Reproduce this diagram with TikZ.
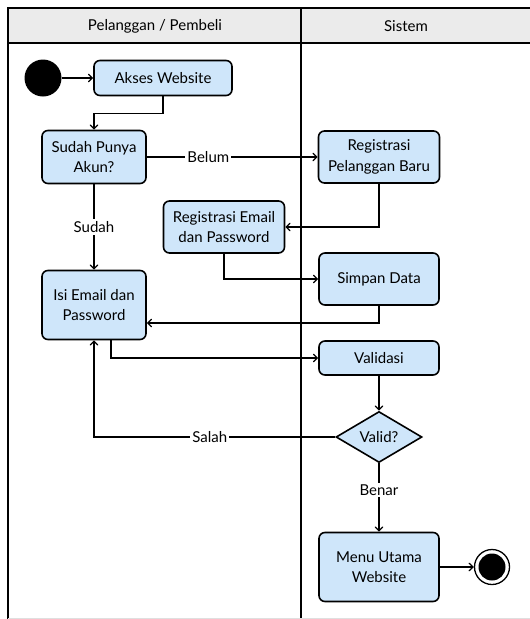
\documentclass[tikz,border=0pt]{standalone}
\usepackage{fontspec}
\setmainfont{Lato}
\usepackage{tikz}
\usetikzlibrary{calc}
\usetikzlibrary{arrows}
\usetikzlibrary{shapes.geometric}
\definecolor{isian}{HTML}{CFE6FA}
\definecolor{kepala}{HTML}{EBEBEB}
\tikzstyle{every node}=[font=\fontsize{15}{20.5}\selectfont]
\tikzstyle{aktivitas}=[draw, line width=1.6pt, rounded corners=6pt, fill=isian, align=center, inner sep=0pt, minimum width=120pt, minimum height=52pt]
\tikzstyle{alur}=[->, >=angle 90, line width=1.3pt]
\tikzstyle{ket}=[fill=white, inner sep=2pt]

\begin{document}
\begin{tikzpicture}[x=1pt, y=-1pt]
            \useasboundingbox (0,0) rectangle (530,619);

            \fill [kepala] (8,8) rectangle (530,43);
            \draw [line width=1.4pt] (530,8) -- (8,8) -- (8,619);
            \draw [line width=1.4pt] (8,43) -- (530,43);
            \draw [line width=1.4pt] (301,8) -- (301,619);
            \draw [gray!25, line width=1pt] (8,618) -- (530,618);
            \node (lajurA) at (155,26) {Pelanggan / Pembeli};
            \node (lajurB) at (406,26) {Sistem};

            \node [circle, fill=black, inner sep=0pt, minimum size=37pt] (mulai) at (43,78) {};
            \node [aktivitas, minimum width=138pt, minimum height=35pt] (akses) at (163,78) {Akses Website};
            \node [aktivitas, minimum width=104pt, minimum height=53pt] (akun) at (94,157) {Sudah Punya\\Akun?};
            \node [aktivitas, minimum width=121pt] (regpel) at (379,157) {Registrasi\\Pelanggan Baru};
            \node [aktivitas, minimum width=121pt] (regemail) at (224,227) {Registrasi Email\\dan Password};
            \node [aktivitas] (simpan) at (379,279) {Simpan Data};
            \node [aktivitas, minimum width=104pt, minimum height=69pt] (isi) at (94,305) {Isi Email dan\\Password};
            \node [aktivitas, minimum height=34pt] (validasi) at (379,358) {Validasi};
            \node [diamond, draw, line width=1.6pt, fill=isian, inner sep=0pt, aspect=1.7, minimum width=86pt, minimum height=51pt] (valid) at (379,437) {Valid?};
            \node [aktivitas, minimum height=69pt] (menu) at (379,567) {Menu Utama\\Website};
            \node [circle, draw, line width=1.3pt, fill=white, inner sep=0pt, minimum size=35pt] (selesai) at (492,567) {};
            \fill (selesai.center) circle (13.5);

            \draw [alur] (mulai) -- (akses.west);
            \draw [alur] (akses.south) -- ++(0,17) -| (akun.north);
            \draw [alur] (akun.east) -- (regpel.west) node [ket, pos=0.36] {Belum};
            \draw [alur] (regpel.south) |- (regemail.east);
            \draw [alur] (akun.south) -- (isi.north) node [ket, midway] {Sudah};
            \draw [alur] (regemail.south) |- (simpan.west);
            \draw [alur] (simpan.south) |- ($(isi.east)+(0,18)$);
            \draw [alur] ($(isi.south)+(17,0)$) |- (validasi.west);
            \draw [alur] (validasi.south) -- (valid.north);
            \draw [alur] (valid.west) -| (isi.south) node [ket, pos=0.26] {Salah};
            \draw [alur] (valid.south) -- (menu.north) node [ket, pos=0.39] {Benar};
            \draw [alur] (menu.east) -- (selesai.west);
        \end{tikzpicture}
\end{document}
